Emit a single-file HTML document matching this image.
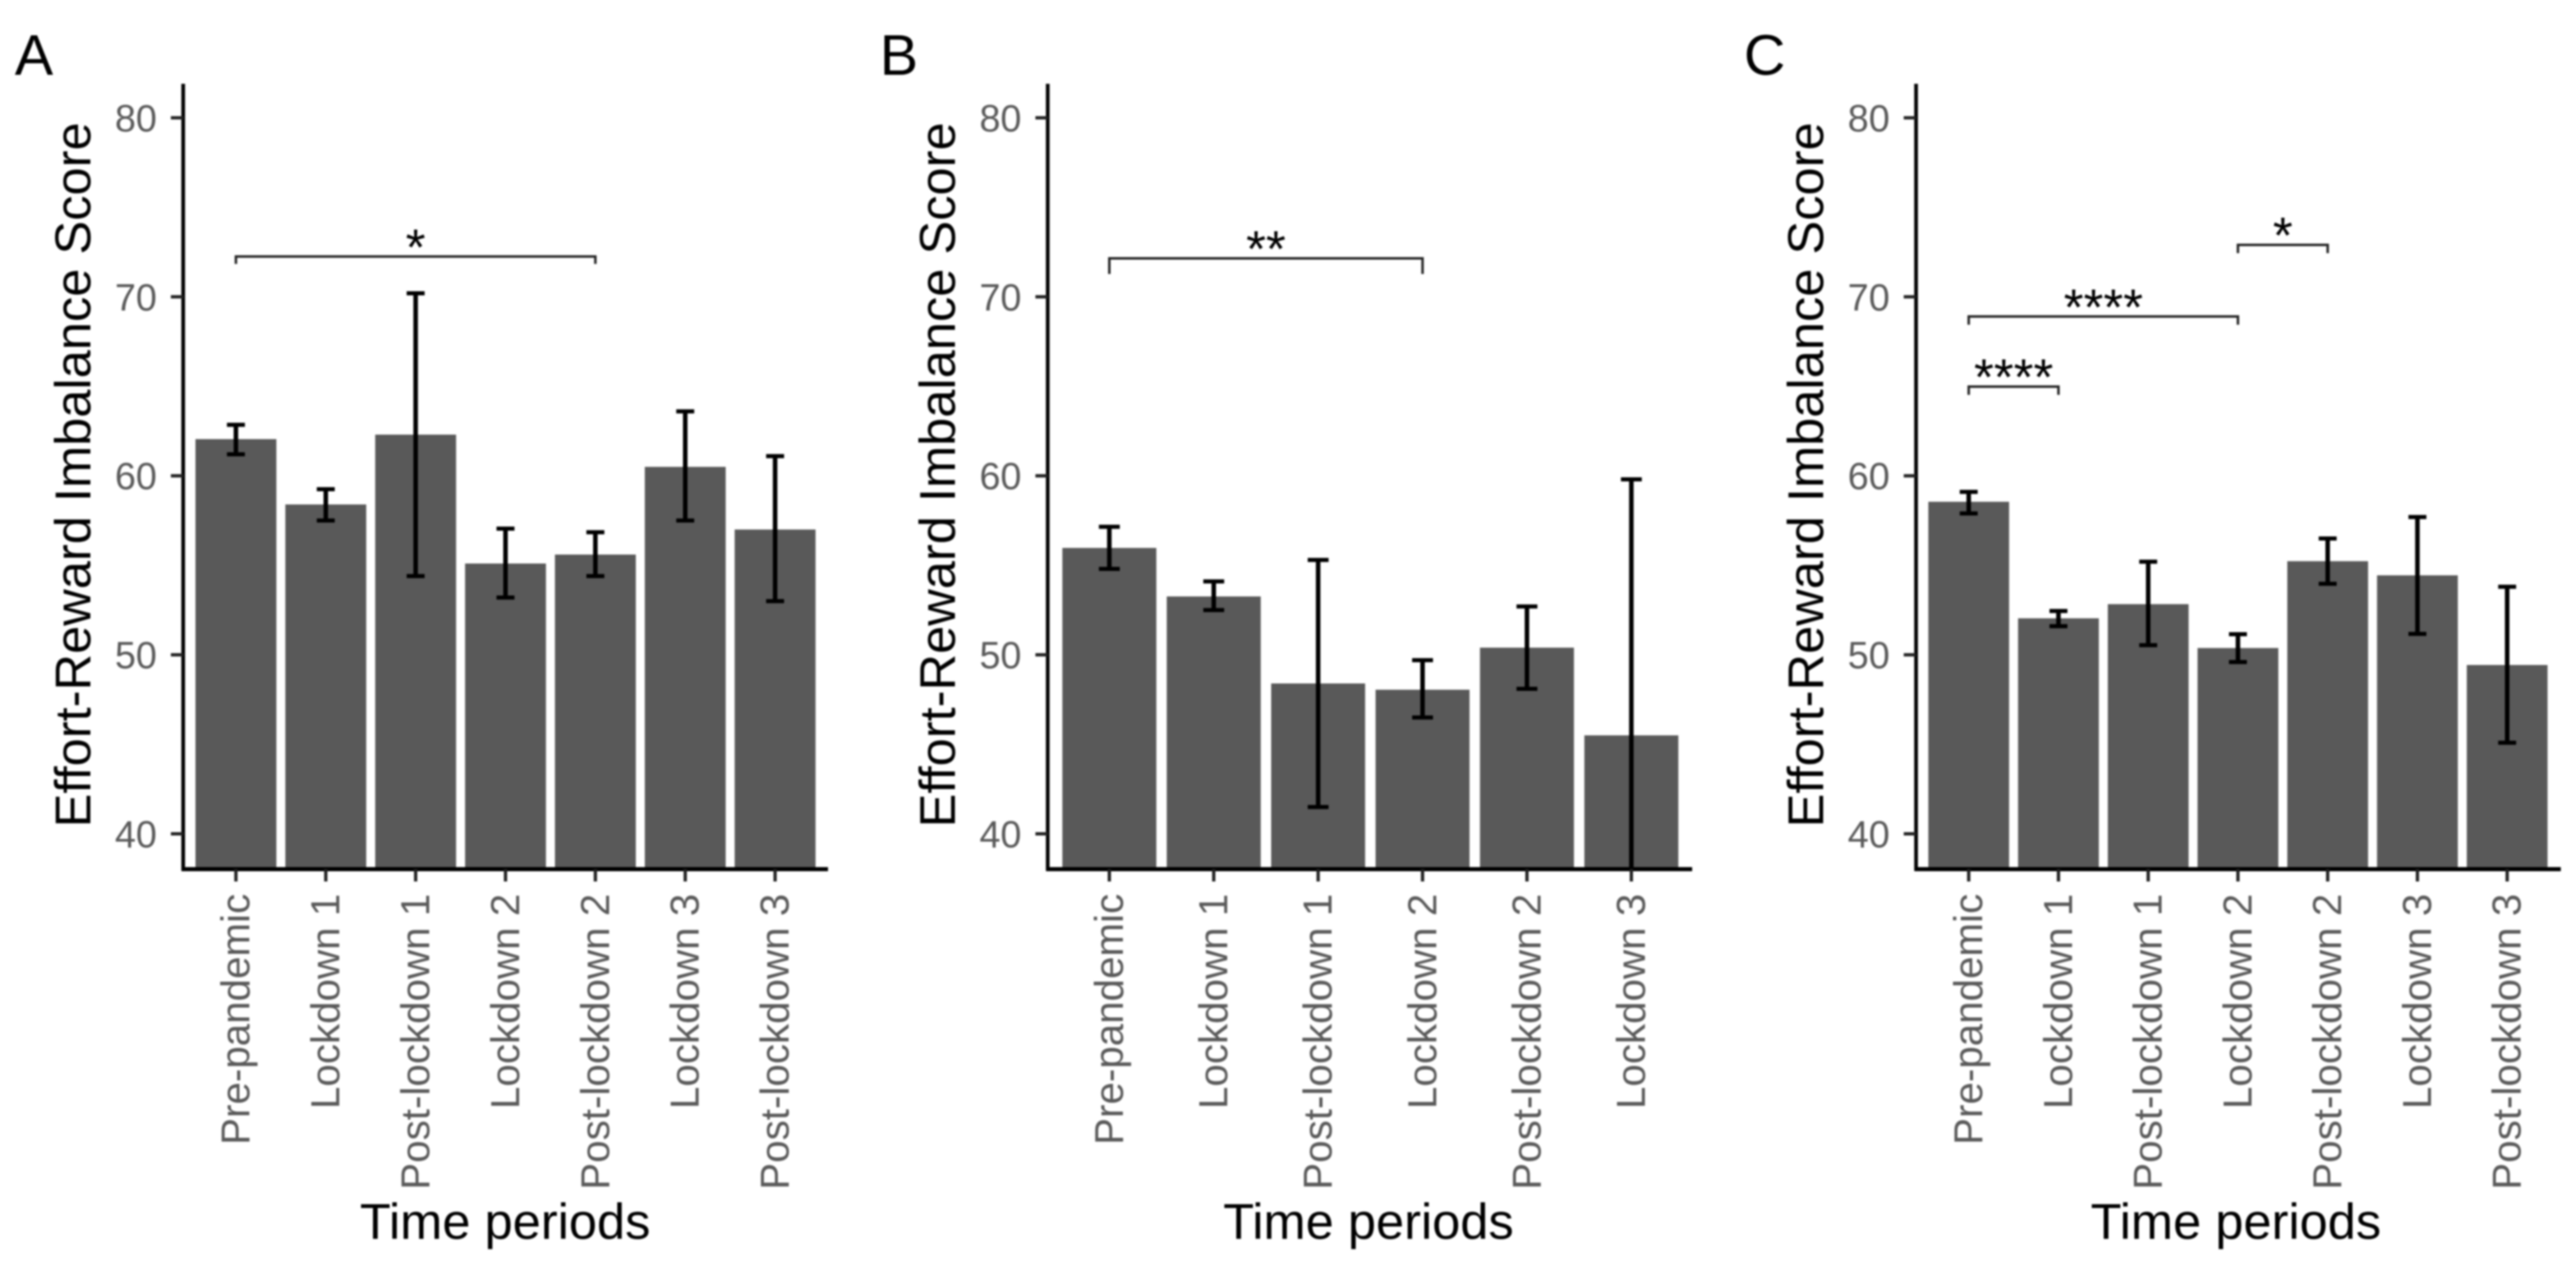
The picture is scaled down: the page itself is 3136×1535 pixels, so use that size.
<!DOCTYPE html>
<html lang="en">
<head>
<meta charset="utf-8">
<title>Effort-Reward Imbalance Score by time period</title>
<style>
html,body{margin:0;padding:0;background:#fff;width:3136px;height:1535px;overflow:hidden}
svg{display:block;filter:blur(1.1px)}
text{font-family:"Liberation Sans",Arial,sans-serif}
</style>
</head>
<body>
<svg id="figure" xmlns="http://www.w3.org/2000/svg" width="3136" height="1535" viewBox="0 0 3136 1535">
<rect x="0" y="0" width="3136" height="1535" fill="#ffffff"/>
</svg>
<script>
// ---- Chart data ----
const yTicks = [40, 50, 60, 70, 80];
const yAxisTitle = 'Effort-Reward Imbalance Score';
const xAxisTitle = 'Time periods';

const categoriesA = ['Pre-pandemic', 'Lockdown 1', 'Post-lockdown 1', 'Lockdown 2', 'Post-lockdown 2', 'Lockdown 3', 'Post-lockdown 3'];
const valuesA = [62.05, 58.4, 62.3, 55.1, 55.6, 60.5, 57.0];
const upperA = [62.85, 59.25, 70.2, 57.05, 56.85, 63.6, 61.1];
const lowerA = [61.2, 57.5, 54.4, 53.2, 54.4, 57.5, 53.0];
const bracketFromA = [0];
const bracketToA = [4];
const bracketLevelA = [72.25];
const bracketLabelA = ['*'];

const categoriesB = ['Pre-pandemic', 'Lockdown 1', 'Post-lockdown 1', 'Lockdown 2', 'Post-lockdown 2', 'Lockdown 3'];
const valuesB = [55.97, 53.26, 48.4, 48.05, 50.4, 45.5];
const upperB = [57.15, 54.1, 55.3, 49.7, 52.7, 59.8];
const lowerB = [54.8, 52.5, 41.5, 46.5, 48.1, 31.2];
const bracketFromB = [0];
const bracketToB = [3];
const bracketLevelB = [72.15];
const bracketLabelB = ['**'];

const categoriesC = ['Pre-pandemic', 'Lockdown 1', 'Post-lockdown 1', 'Lockdown 2', 'Post-lockdown 2', 'Lockdown 3', 'Post-lockdown 3'];
const valuesC = [58.55, 52.04, 52.83, 50.38, 55.23, 54.44, 49.43];
const upperC = [59.1, 52.45, 55.2, 51.15, 56.5, 57.7, 53.8];
const lowerC = [57.9, 51.6, 50.54, 49.6, 53.97, 51.17, 45.09];
const bracketFromC = [0, 0, 3];
const bracketToC = [1, 3, 4];
const bracketLevelC = [64.98, 68.9, 72.9];
const bracketLabelC = ['****', '****', '*'];

// ---- Layout ----
const NS = 'http://www.w3.org/2000/svg';
const svg = document.getElementById('figure');
const PLOT_TOP = 102, PLOT_BOTTOM = 1058;
const Y40_PX = 1015, PX_PER_UNIT = 21.79;
function yScale(v) { return Y40_PX - (v - 40) * PX_PER_UNIT; }

function make(parent, tag, attrs, text) {
  const el = document.createElementNS(NS, tag);
  for (const k in attrs) el.setAttribute(k, attrs[k]);
  if (text !== undefined) el.textContent = text;
  parent.appendChild(el);
  return el;
}

function drawPanel(id, letter, letterX, axisLeft, axisRight, firstTick, tickStep, titleX, categories, values, upper, lower, bFrom, bTo, bLevel, bLabel, tipLength) {
  const xScale = function (i) { return firstTick + i * tickStep; };
  const barWidth = tickStep * 0.9;
  const capWidth = tickStep * 0.2;

  const panel = make(svg, 'g', {});
  
  

  const clip = make(panel, 'clipPath', { id: 'clip-' + id });
  make(clip, 'rect', { x: axisLeft, y: PLOT_TOP, width: axisRight - axisLeft, height: PLOT_BOTTOM - PLOT_TOP });

  const letterEl = make(panel, 'text', { x: letterX, y: 91, 'font-size': 70, fill: '#000' }, letter);
  
  

  // bars
  values.forEach(function (v, i) {
    const bar = make(panel, 'rect', {
      x: xScale(i) - barWidth / 2, y: yScale(v), width: barWidth,
      height: PLOT_BOTTOM - yScale(v), fill: '#595959', 'clip-path': 'url(#clip-' + id + ')'
    });
    
    
  });

  // error bars
  values.forEach(function (v, i) {
    const cx = xScale(i), yHi = yScale(upper[i]), yLo = yScale(lower[i]);
    const eb = make(panel, 'g', { stroke: '#000', fill: 'none', 'clip-path': 'url(#clip-' + id + ')' });
    
    
    make(eb, 'line', { x1: cx, x2: cx, y1: yHi, y2: yLo, 'stroke-width': 5.5 });
    make(eb, 'line', { x1: cx - capWidth / 2, x2: cx + capWidth / 2, y1: yHi, y2: yHi, 'stroke-width': 5 });
    make(eb, 'line', { x1: cx - capWidth / 2, x2: cx + capWidth / 2, y1: yLo, y2: yLo, 'stroke-width': 5 });
  });

  // y axis
  const yAxis = make(panel, 'g', {});
  
  
  make(yAxis, 'line', { x1: axisLeft, x2: axisLeft, y1: PLOT_TOP, y2: PLOT_BOTTOM + 2, stroke: '#000', 'stroke-width': 4.5 });
  yTicks.forEach(function (t) {
    const mark = make(yAxis, 'line', { x1: axisLeft - 15, x2: axisLeft, y1: yScale(t), y2: yScale(t), stroke: '#222', 'stroke-width': 4 });
    
    
    const lab = make(yAxis, 'text', { x: axisLeft - 32, y: yScale(t) + 16.5, 'font-size': 46, fill: '#5a5a5a', 'text-anchor': 'end' }, String(t));
    
    
  });

  // x axis
  const xAxis = make(panel, 'g', {});
  
  
  make(xAxis, 'line', { x1: axisLeft - 2, x2: axisRight, y1: PLOT_BOTTOM, y2: PLOT_BOTTOM, stroke: '#000', 'stroke-width': 5 });
  categories.forEach(function (c, i) {
    const cx = xScale(i);
    const mark = make(xAxis, 'line', { x1: cx, x2: cx, y1: PLOT_BOTTOM, y2: 1073, stroke: '#222', 'stroke-width': 4 });
    
    
    const lab = make(xAxis, 'text', {
      transform: 'translate(' + (cx + 16.5) + ' 1088) rotate(-90)',
      'font-size': 49.1, fill: '#5a5a5a', 'text-anchor': 'end'
    }, c);
    
    
  });

  // axis titles
  const yt = make(panel, 'text', {
    transform: 'translate(' + (axisLeft - 113) + ' 578) rotate(-90)',
    'font-size': 61.6, fill: '#000', 'text-anchor': 'middle'
  }, yAxisTitle);
  
  
  const xt = make(panel, 'text', { x: titleX, y: 1508, 'font-size': 61.6, fill: '#000', 'text-anchor': 'middle' }, xAxisTitle);
  
  

  // significance brackets
  bLevel.forEach(function (lvl, k) {
    const x1 = xScale(bFrom[k]), x2 = xScale(bTo[k]), y = yScale(lvl);
    const br = make(panel, 'g', {});
    
    
    make(br, 'path', {
      d: 'M' + x1 + ' ' + (y + tipLength) + 'V' + y + 'H' + x2 + 'V' + (y + tipLength),
      fill: 'none', stroke: '#222', 'stroke-width': 3
    });
    const star = make(br, 'text', { x: (x1 + x2) / 2, y: y + 10, 'font-size': 62, fill: '#000', 'text-anchor': 'middle' }, bLabel[k]);
    
    
  });
}

drawPanel('a', 'A', 18, 223, 1008, 287.2, 109.4, 615, categoriesA, valuesA, upperA, lowerA, bracketFromA, bracketToA, bracketLevelA, bracketLabelA, 9);
drawPanel('b', 'B', 1071, 1275.5, 2060, 1350.5, 127.1, 1666, categoriesB, valuesB, upperB, lowerB, bracketFromB, bracketToB, bracketLevelB, bracketLabelB, 19);
drawPanel('c', 'C', 2123, 2332.6, 3117.5, 2396.7, 109.25, 2722, categoriesC, valuesC, upperC, lowerC, bracketFromC, bracketToC, bracketLevelC, bracketLabelC, 10);
</script>
</body>
</html>
